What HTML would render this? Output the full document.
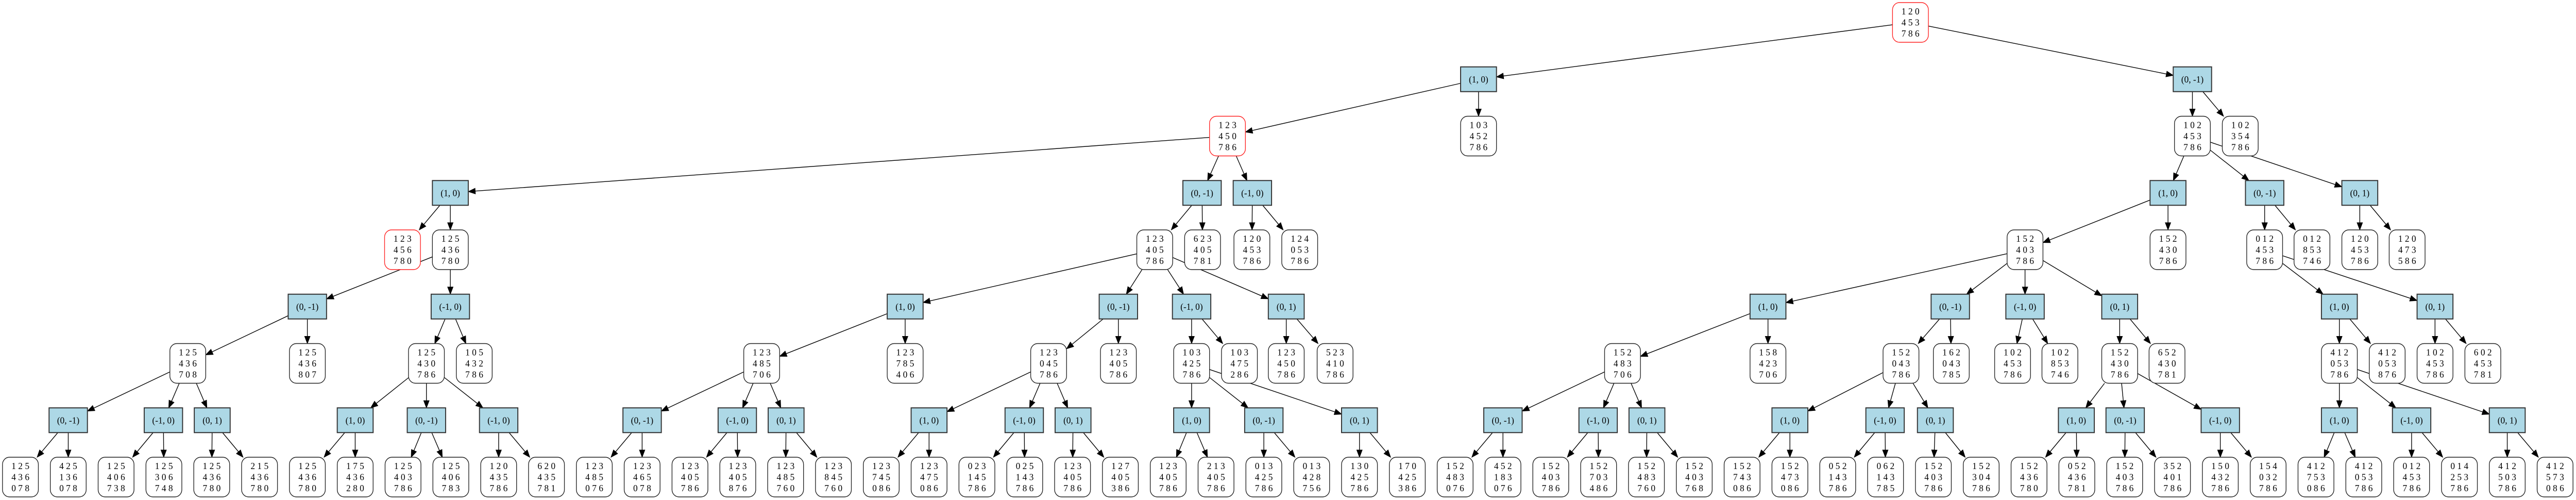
<!DOCTYPE html>
<html><head><meta charset="utf-8">
<style>
html,body{margin:0;padding:0;background:#fff;width:100vw;height:100vh;overflow:hidden;}
svg{display:block;position:absolute;left:0;top:0;width:100vw;height:100vh;}
text{font-family:"Liberation Serif",serif;font-size:18px;text-anchor:middle;dominant-baseline:central;fill:#000;}
</style></head>
<body>
<svg id="sv" viewBox="0 0 5171 970" preserveAspectRatio="none" xmlns="http://www.w3.org/2000/svg">
<g id="E"></g>
<g id="S"></g>
<g id="T">
<g transform="translate(3835,43.5)"><text y="-21.5">1 2 0</text><text y="0">4 5 3</text><text y="21.5">7 8 6</text></g>
<g transform="translate(2968,153.75)"><text>(1, 0)</text></g>
<g transform="translate(4401,153.75)"><text>(0, -1)</text></g>
<g transform="translate(2464,264)"><text y="-21.5">1 2 3</text><text y="0">4 5 0</text><text y="21.5">7 8 6</text></g>
<g transform="translate(2968,264)"><text y="-21.5">1 0 3</text><text y="0">4 5 2</text><text y="21.5">7 8 6</text></g>
<g transform="translate(4401,264)"><text y="-21.5">1 0 2</text><text y="0">4 5 3</text><text y="21.5">7 8 6</text></g>
<g transform="translate(4497,264)"><text y="-21.5">1 0 2</text><text y="0">3 5 4</text><text y="21.5">7 8 6</text></g>
<g transform="translate(904,374.25)"><text>(1, 0)</text></g>
<g transform="translate(2413,374.25)"><text>(0, -1)</text></g>
<g transform="translate(2514,374.25)"><text>(-1, 0)</text></g>
<g transform="translate(4352,374.25)"><text>(1, 0)</text></g>
<g transform="translate(4546,374.25)"><text>(0, -1)</text></g>
<g transform="translate(4737,374.25)"><text>(0, 1)</text></g>
<g transform="translate(808,484.5)"><text y="-21.5">1 2 3</text><text y="0">4 5 6</text><text y="21.5">7 8 0</text></g>
<g transform="translate(904,484.5)"><text y="-21.5">1 2 5</text><text y="0">4 3 6</text><text y="21.5">7 8 0</text></g>
<g transform="translate(2318,484.5)"><text y="-21.5">1 2 3</text><text y="0">4 0 5</text><text y="21.5">7 8 6</text></g>
<g transform="translate(2414,484.5)"><text y="-21.5">6 2 3</text><text y="0">4 0 5</text><text y="21.5">7 8 1</text></g>
<g transform="translate(2513,484.5)"><text y="-21.5">1 2 0</text><text y="0">4 5 3</text><text y="21.5">7 8 6</text></g>
<g transform="translate(2609,484.5)"><text y="-21.5">1 2 4</text><text y="0">0 5 3</text><text y="21.5">7 8 6</text></g>
<g transform="translate(4065,484.5)"><text y="-21.5">1 5 2</text><text y="0">4 0 3</text><text y="21.5">7 8 6</text></g>
<g transform="translate(4352,484.5)"><text y="-21.5">1 5 2</text><text y="0">4 3 0</text><text y="21.5">7 8 6</text></g>
<g transform="translate(4546,484.5)"><text y="-21.5">0 1 2</text><text y="0">4 5 3</text><text y="21.5">7 8 6</text></g>
<g transform="translate(4641,484.5)"><text y="-21.5">0 1 2</text><text y="0">8 5 3</text><text y="21.5">7 4 6</text></g>
<g transform="translate(4737,484.5)"><text y="-21.5">1 2 0</text><text y="0">4 5 3</text><text y="21.5">7 8 6</text></g>
<g transform="translate(4832,484.5)"><text y="-21.5">1 2 0</text><text y="0">4 7 3</text><text y="21.5">5 8 6</text></g>
<g transform="translate(617,594.75)"><text>(0, -1)</text></g>
<g transform="translate(904,594.75)"><text>(-1, 0)</text></g>
<g transform="translate(1817,594.75)"><text>(1, 0)</text></g>
<g transform="translate(2245,594.75)"><text>(0, -1)</text></g>
<g transform="translate(2392,594.75)"><text>(-1, 0)</text></g>
<g transform="translate(2582,594.75)"><text>(0, 1)</text></g>
<g transform="translate(3549,594.75)"><text>(1, 0)</text></g>
<g transform="translate(3915,594.75)"><text>(0, -1)</text></g>
<g transform="translate(4065,594.75)"><text>(-1, 0)</text></g>
<g transform="translate(4255,594.75)"><text>(0, 1)</text></g>
<g transform="translate(4696,594.75)"><text>(1, 0)</text></g>
<g transform="translate(4888,594.75)"><text>(0, 1)</text></g>
<g transform="translate(377,705)"><text y="-21.5">1 2 5</text><text y="0">4 3 6</text><text y="21.5">7 0 8</text></g>
<g transform="translate(617,705)"><text y="-21.5">1 2 5</text><text y="0">4 3 6</text><text y="21.5">8 0 7</text></g>
<g transform="translate(856,705)"><text y="-21.5">1 2 5</text><text y="0">4 3 0</text><text y="21.5">7 8 6</text></g>
<g transform="translate(952,705)"><text y="-21.5">1 0 5</text><text y="0">4 3 2</text><text y="21.5">7 8 6</text></g>
<g transform="translate(1529,705)"><text y="-21.5">1 2 3</text><text y="0">4 8 5</text><text y="21.5">7 0 6</text></g>
<g transform="translate(1817,705)"><text y="-21.5">1 2 3</text><text y="0">7 8 5</text><text y="21.5">4 0 6</text></g>
<g transform="translate(2105,705)"><text y="-21.5">1 2 3</text><text y="0">0 4 5</text><text y="21.5">7 8 6</text></g>
<g transform="translate(2245,705)"><text y="-21.5">1 2 3</text><text y="0">4 0 5</text><text y="21.5">7 8 6</text></g>
<g transform="translate(2392,705)"><text y="-21.5">1 0 3</text><text y="0">4 2 5</text><text y="21.5">7 8 6</text></g>
<g transform="translate(2488,705)"><text y="-21.5">1 0 3</text><text y="0">4 7 5</text><text y="21.5">2 8 6</text></g>
<g transform="translate(2582,705)"><text y="-21.5">1 2 3</text><text y="0">4 5 0</text><text y="21.5">7 8 6</text></g>
<g transform="translate(2680,705)"><text y="-21.5">5 2 3</text><text y="0">4 1 0</text><text y="21.5">7 8 6</text></g>
<g transform="translate(3257,705)"><text y="-21.5">1 5 2</text><text y="0">4 8 3</text><text y="21.5">7 0 6</text></g>
<g transform="translate(3549,705)"><text y="-21.5">1 5 8</text><text y="0">4 2 3</text><text y="21.5">7 0 6</text></g>
<g transform="translate(3816,705)"><text y="-21.5">1 5 2</text><text y="0">0 4 3</text><text y="21.5">7 8 6</text></g>
<g transform="translate(3917,705)"><text y="-21.5">1 6 2</text><text y="0">0 4 3</text><text y="21.5">7 8 5</text></g>
<g transform="translate(4040,705)"><text y="-21.5">1 0 2</text><text y="0">4 5 3</text><text y="21.5">7 8 6</text></g>
<g transform="translate(4135,705)"><text y="-21.5">1 0 2</text><text y="0">8 5 3</text><text y="21.5">7 4 6</text></g>
<g transform="translate(4255,705)"><text y="-21.5">1 5 2</text><text y="0">4 3 0</text><text y="21.5">7 8 6</text></g>
<g transform="translate(4350,705)"><text y="-21.5">6 5 2</text><text y="0">4 3 0</text><text y="21.5">7 8 1</text></g>
<g transform="translate(4696,705)"><text y="-21.5">4 1 2</text><text y="0">0 5 3</text><text y="21.5">7 8 6</text></g>
<g transform="translate(4792,705)"><text y="-21.5">4 1 2</text><text y="0">0 5 3</text><text y="21.5">8 7 6</text></g>
<g transform="translate(4888,705)"><text y="-21.5">1 0 2</text><text y="0">4 5 3</text><text y="21.5">7 8 6</text></g>
<g transform="translate(4984,705)"><text y="-21.5">6 0 2</text><text y="0">4 5 3</text><text y="21.5">7 8 1</text></g>
<g transform="translate(137,815.25)"><text>(0, -1)</text></g>
<g transform="translate(328,815.25)"><text>(-1, 0)</text></g>
<g transform="translate(426,815.25)"><text>(0, 1)</text></g>
<g transform="translate(713,815.25)"><text>(1, 0)</text></g>
<g transform="translate(856,815.25)"><text>(0, -1)</text></g>
<g transform="translate(1001,815.25)"><text>(-1, 0)</text></g>
<g transform="translate(1289,815.25)"><text>(0, -1)</text></g>
<g transform="translate(1480,815.25)"><text>(-1, 0)</text></g>
<g transform="translate(1578,815.25)"><text>(0, 1)</text></g>
<g transform="translate(1865,815.25)"><text>(1, 0)</text></g>
<g transform="translate(2056,815.25)"><text>(-1, 0)</text></g>
<g transform="translate(2154,815.25)"><text>(0, 1)</text></g>
<g transform="translate(2392,815.25)"><text>(1, 0)</text></g>
<g transform="translate(2537,815.25)"><text>(0, -1)</text></g>
<g transform="translate(2729,815.25)"><text>(0, 1)</text></g>
<g transform="translate(3017,815.25)"><text>(0, -1)</text></g>
<g transform="translate(3208,815.25)"><text>(-1, 0)</text></g>
<g transform="translate(3306,815.25)"><text>(0, 1)</text></g>
<g transform="translate(3593,815.25)"><text>(1, 0)</text></g>
<g transform="translate(3784,815.25)"><text>(-1, 0)</text></g>
<g transform="translate(3885,815.25)"><text>(0, 1)</text></g>
<g transform="translate(4168,815.25)"><text>(1, 0)</text></g>
<g transform="translate(4266,815.25)"><text>(0, -1)</text></g>
<g transform="translate(4457,815.25)"><text>(-1, 0)</text></g>
<g transform="translate(4696,815.25)"><text>(1, 0)</text></g>
<g transform="translate(4841,815.25)"><text>(-1, 0)</text></g>
<g transform="translate(5033,815.25)"><text>(0, 1)</text></g>
<g transform="translate(41,925.5)"><text y="-21.5">1 2 5</text><text y="0">4 3 6</text><text y="21.5">0 7 8</text></g>
<g transform="translate(137,925.5)"><text y="-21.5">4 2 5</text><text y="0">1 3 6</text><text y="21.5">0 7 8</text></g>
<g transform="translate(233,925.5)"><text y="-21.5">1 2 5</text><text y="0">4 0 6</text><text y="21.5">7 3 8</text></g>
<g transform="translate(329,925.5)"><text y="-21.5">1 2 5</text><text y="0">3 0 6</text><text y="21.5">7 4 8</text></g>
<g transform="translate(425,925.5)"><text y="-21.5">1 2 5</text><text y="0">4 3 6</text><text y="21.5">7 8 0</text></g>
<g transform="translate(521,925.5)"><text y="-21.5">2 1 5</text><text y="0">4 3 6</text><text y="21.5">7 8 0</text></g>
<g transform="translate(617,925.5)"><text y="-21.5">1 2 5</text><text y="0">4 3 6</text><text y="21.5">7 8 0</text></g>
<g transform="translate(713,925.5)"><text y="-21.5">1 7 5</text><text y="0">4 3 6</text><text y="21.5">2 8 0</text></g>
<g transform="translate(809,925.5)"><text y="-21.5">1 2 5</text><text y="0">4 0 3</text><text y="21.5">7 8 6</text></g>
<g transform="translate(905,925.5)"><text y="-21.5">1 2 5</text><text y="0">4 0 6</text><text y="21.5">7 8 3</text></g>
<g transform="translate(1001,925.5)"><text y="-21.5">1 2 0</text><text y="0">4 3 5</text><text y="21.5">7 8 6</text></g>
<g transform="translate(1097,925.5)"><text y="-21.5">6 2 0</text><text y="0">4 3 5</text><text y="21.5">7 8 1</text></g>
<g transform="translate(1193,925.5)"><text y="-21.5">1 2 3</text><text y="0">4 8 5</text><text y="21.5">0 7 6</text></g>
<g transform="translate(1289,925.5)"><text y="-21.5">1 2 3</text><text y="0">4 6 5</text><text y="21.5">0 7 8</text></g>
<g transform="translate(1385,925.5)"><text y="-21.5">1 2 3</text><text y="0">4 0 5</text><text y="21.5">7 8 6</text></g>
<g transform="translate(1481,925.5)"><text y="-21.5">1 2 3</text><text y="0">4 0 5</text><text y="21.5">8 7 6</text></g>
<g transform="translate(1577,925.5)"><text y="-21.5">1 2 3</text><text y="0">4 8 5</text><text y="21.5">7 6 0</text></g>
<g transform="translate(1673,925.5)"><text y="-21.5">1 2 3</text><text y="0">8 4 5</text><text y="21.5">7 6 0</text></g>
<g transform="translate(1769,925.5)"><text y="-21.5">1 2 3</text><text y="0">7 4 5</text><text y="21.5">0 8 6</text></g>
<g transform="translate(1865,925.5)"><text y="-21.5">1 2 3</text><text y="0">4 7 5</text><text y="21.5">0 8 6</text></g>
<g transform="translate(1961,925.5)"><text y="-21.5">0 2 3</text><text y="0">1 4 5</text><text y="21.5">7 8 6</text></g>
<g transform="translate(2057,925.5)"><text y="-21.5">0 2 5</text><text y="0">1 4 3</text><text y="21.5">7 8 6</text></g>
<g transform="translate(2153,925.5)"><text y="-21.5">1 2 3</text><text y="0">4 0 5</text><text y="21.5">7 8 6</text></g>
<g transform="translate(2249,925.5)"><text y="-21.5">1 2 7</text><text y="0">4 0 5</text><text y="21.5">3 8 6</text></g>
<g transform="translate(2345,925.5)"><text y="-21.5">1 2 3</text><text y="0">4 0 5</text><text y="21.5">7 8 6</text></g>
<g transform="translate(2441,925.5)"><text y="-21.5">2 1 3</text><text y="0">4 0 5</text><text y="21.5">7 8 6</text></g>
<g transform="translate(2537,925.5)"><text y="-21.5">0 1 3</text><text y="0">4 2 5</text><text y="21.5">7 8 6</text></g>
<g transform="translate(2633,925.5)"><text y="-21.5">0 1 3</text><text y="0">4 2 8</text><text y="21.5">7 5 6</text></g>
<g transform="translate(2729,925.5)"><text y="-21.5">1 3 0</text><text y="0">4 2 5</text><text y="21.5">7 8 6</text></g>
<g transform="translate(2825,925.5)"><text y="-21.5">1 7 0</text><text y="0">4 2 5</text><text y="21.5">3 8 6</text></g>
<g transform="translate(2921,925.5)"><text y="-21.5">1 5 2</text><text y="0">4 8 3</text><text y="21.5">0 7 6</text></g>
<g transform="translate(3017,925.5)"><text y="-21.5">4 5 2</text><text y="0">1 8 3</text><text y="21.5">0 7 6</text></g>
<g transform="translate(3113,925.5)"><text y="-21.5">1 5 2</text><text y="0">4 0 3</text><text y="21.5">7 8 6</text></g>
<g transform="translate(3209,925.5)"><text y="-21.5">1 5 2</text><text y="0">7 0 3</text><text y="21.5">4 8 6</text></g>
<g transform="translate(3305,925.5)"><text y="-21.5">1 5 2</text><text y="0">4 8 3</text><text y="21.5">7 6 0</text></g>
<g transform="translate(3401,925.5)"><text y="-21.5">1 5 2</text><text y="0">4 0 3</text><text y="21.5">7 6 8</text></g>
<g transform="translate(3497,925.5)"><text y="-21.5">1 5 2</text><text y="0">7 4 3</text><text y="21.5">0 8 6</text></g>
<g transform="translate(3593,925.5)"><text y="-21.5">1 5 2</text><text y="0">4 7 3</text><text y="21.5">0 8 6</text></g>
<g transform="translate(3689,925.5)"><text y="-21.5">0 5 2</text><text y="0">1 4 3</text><text y="21.5">7 8 6</text></g>
<g transform="translate(3785,925.5)"><text y="-21.5">0 6 2</text><text y="0">1 4 3</text><text y="21.5">7 8 5</text></g>
<g transform="translate(3881,925.5)"><text y="-21.5">1 5 2</text><text y="0">4 0 3</text><text y="21.5">7 8 6</text></g>
<g transform="translate(3977,925.5)"><text y="-21.5">1 5 2</text><text y="0">3 0 4</text><text y="21.5">7 8 6</text></g>
<g transform="translate(4073,925.5)"><text y="-21.5">1 5 2</text><text y="0">4 3 6</text><text y="21.5">7 8 0</text></g>
<g transform="translate(4169,925.5)"><text y="-21.5">0 5 2</text><text y="0">4 3 6</text><text y="21.5">7 8 1</text></g>
<g transform="translate(4265,925.5)"><text y="-21.5">1 5 2</text><text y="0">4 0 3</text><text y="21.5">7 8 6</text></g>
<g transform="translate(4361,925.5)"><text y="-21.5">3 5 2</text><text y="0">4 0 1</text><text y="21.5">7 8 6</text></g>
<g transform="translate(4457,925.5)"><text y="-21.5">1 5 0</text><text y="0">4 3 2</text><text y="21.5">7 8 6</text></g>
<g transform="translate(4553,925.5)"><text y="-21.5">1 5 4</text><text y="0">0 3 2</text><text y="21.5">7 8 6</text></g>
<g transform="translate(4649,925.5)"><text y="-21.5">4 1 2</text><text y="0">7 5 3</text><text y="21.5">0 8 6</text></g>
<g transform="translate(4745,925.5)"><text y="-21.5">4 1 2</text><text y="0">0 5 3</text><text y="21.5">7 8 6</text></g>
<g transform="translate(4841,925.5)"><text y="-21.5">0 1 2</text><text y="0">4 5 3</text><text y="21.5">7 8 6</text></g>
<g transform="translate(4937,925.5)"><text y="-21.5">0 1 4</text><text y="0">2 5 3</text><text y="21.5">7 8 6</text></g>
<g transform="translate(5033,925.5)"><text y="-21.5">4 1 2</text><text y="0">5 0 3</text><text y="21.5">7 8 6</text></g>
<g transform="translate(5129,925.5)"><text y="-21.5">4 1 2</text><text y="0">5 7 3</text><text y="21.5">0 8 6</text></g>
</g>
</svg>
<script>
(function(){
var NS="http://www.w3.org/2000/svg";
function row(r){return 43.5+110.25*r;}
var N=[
['r',3835,0],
['n',2968,1],['w',4401,1],
['r',2464,2],['s',2968,2],['s',4401,2],['s',4497,2],
['n',904,3],['w',2413,3],['w',2514,3],['n',4352,3],['w',4546,3],['n',4737,3],
['r',808,4],['s',904,4],['s',2318,4],['s',2414,4],['s',2513,4],['s',2609,4],['s',4065,4],['s',4352,4],['s',4546,4],['s',4641,4],['s',4737,4],['s',4832,4],
['w',617,5],['w',904,5],['n',1817,5],['w',2245,5],['w',2392,5],['n',2582,5],['n',3549,5],['w',3915,5],['w',4065,5],['n',4255,5],['n',4696,5],['n',4888,5],
['s',377,6],['s',617,6],['s',856,6],['s',952,6],['s',1529,6],['s',1817,6],['s',2105,6],['s',2245,6],['s',2392,6],['s',2488,6],['s',2582,6],['s',2680,6],['s',3257,6],['s',3549,6],['s',3816,6],['s',3917,6],['s',4040,6],['s',4135,6],['s',4255,6],['s',4350,6],['s',4696,6],['s',4792,6],['s',4888,6],['s',4984,6],
['w',137,7],['w',328,7],['n',426,7],['n',713,7],['w',856,7],['w',1001,7],['w',1289,7],['w',1480,7],['n',1578,7],['n',1865,7],['w',2056,7],['n',2154,7],['n',2392,7],['w',2537,7],['n',2729,7],['w',3017,7],['w',3208,7],['n',3306,7],['n',3593,7],['w',3784,7],['n',3885,7],['n',4168,7],['w',4266,7],['w',4457,7],['n',4696,7],['w',4841,7],['n',5033,7]
];
var P=[-1,0,0,1,1,2,2,3,3,3,5,5,5,7,7,8,8,9,9,10,10,11,11,12,12,14,14,15,15,15,15,19,19,19,19,21,21,25,25,26,26,27,27,28,28,29,29,30,30,31,31,32,32,33,33,34,34,35,35,36,36,37,37,37,39,39,39,41,41,41,43,43,43,45,45,45,49,49,49,51,51,51,55,55,55,57,57,57];
for(var k=0;k<54;k++){N.push(['s',41+96*k,8]);P.push(61+Math.floor(k/2));}
function dims(n){var t=n[0];if(t=='r'||t=='s')return[36,38.5];if(t=='n')return[36,24];return[38.5,24];}
var E=document.getElementById('E'),S=document.getElementById('S');
function el(tag,a,par){var e=document.createElementNS(NS,tag);for(var k in a)e.setAttribute(k,a[k]);par.appendChild(e);return e;}
for(var i=0;i<N.length;i++){
  var n=N[i],d=dims(n),x=n[1],y=row(n[2]);
  if(n[0]=='r'||n[0]=='s'){
    el('rect',{x:x-d[0],y:y-d[1],width:2*d[0],height:2*d[1],rx:14,ry:14,fill:'#fff',stroke:n[0]=='r'?'#f22':'#222','stroke-width':1.4},S);
  } else {
    el('rect',{x:x-d[0],y:y-d[1],width:2*d[0],height:2*d[1],fill:'#add8e6',stroke:'#333','stroke-width':2},S);
  }
  if(P[i]>=0){
    var p=N[P[i]],pd=dims(p),px=p[1],py=row(p[2]);
    var dx=x-px,dy=y-py,L=Math.sqrt(dx*dx+dy*dy),ux=dx/L,uy=dy/L;
    var t1=Math.min(Math.abs(ux)>1e-6?pd[0]/Math.abs(ux):1e9,pd[1]/Math.abs(uy));
    var t2=Math.min(Math.abs(ux)>1e-6?d[0]/Math.abs(ux):1e9,d[1]/Math.abs(uy));
    var sx=px+ux*t1,sy=py+uy*t1,ex=x-ux*t2,ey=y-uy*t2;
    var al=14,aw=5.5,bx=ex-ux*al,by=ey-uy*al;
    el('line',{x1:sx,y1:sy,x2:bx,y2:by,stroke:'#000','stroke-width':1.4},E);
    el('polygon',{points:ex+','+ey+' '+(bx-uy*aw)+','+(by+ux*aw)+' '+(bx+uy*aw)+','+(by-ux*aw),fill:'#000',stroke:'#000','stroke-width':1},E);
  }
}
})();
</script>
</body></html>
